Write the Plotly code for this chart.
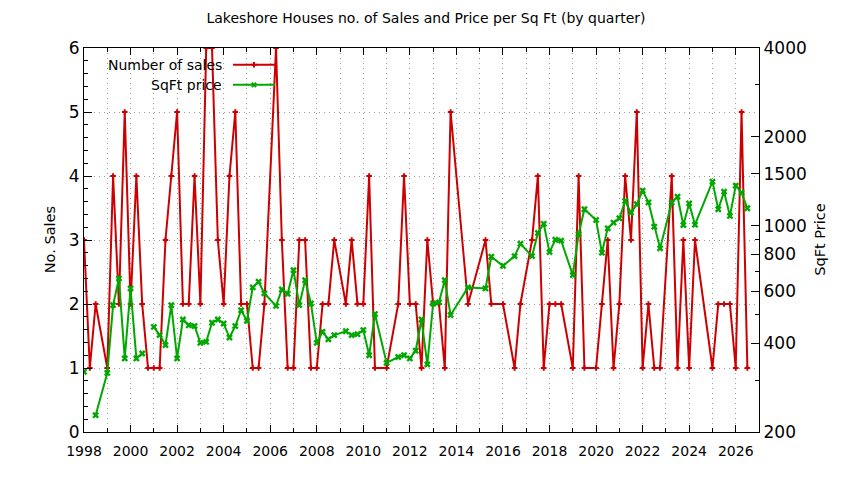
import plotly.graph_objects as go

# quarterly data (decimal year of the quarter start)
quarters = [
    1998.00, 1998.25, 1998.50, 1999.00, 1999.25, 1999.50, 1999.75,
    2000.00, 2000.25, 2000.50, 2000.75, 2001.00, 2001.25, 2001.50, 2001.75,
    2002.00, 2002.25, 2002.50, 2002.75, 2003.00, 2003.25, 2003.50, 2003.75,
    2004.00, 2004.25, 2004.50, 2004.75, 2005.00, 2005.25, 2005.50, 2005.75,
    2006.25, 2006.50, 2006.75, 2007.00, 2007.25, 2007.50, 2007.75,
    2008.00, 2008.25, 2008.50, 2008.75, 2009.25, 2009.50, 2009.75,
    2010.00, 2010.25, 2010.50, 2011.00, 2011.50, 2011.75,
    2012.00, 2012.25, 2012.50, 2012.75, 2013.00, 2013.25, 2013.50, 2013.75,
    2014.50, 2015.25, 2015.50, 2016.00, 2016.50, 2016.75,
    2017.25, 2017.50, 2017.75, 2018.00, 2018.25, 2018.50,
    2019.00, 2019.25, 2019.50, 2020.00, 2020.25, 2020.50, 2020.75,
    2021.00, 2021.25, 2021.50, 2021.75, 2022.00, 2022.25, 2022.50, 2022.75,
    2023.25, 2023.50, 2023.75, 2024.00, 2024.25,
    2025.00, 2025.25, 2025.50, 2025.75, 2026.00, 2026.25, 2026.50,
]

sales = [
    3, 1, 2, 1, 4, 2, 5,
    2, 4, 2, 1, 1, 1, 3, 4,
    5, 2, 2, 4, 2, 6, 6, 3,
    2, 4, 5, 2, 2, 1, 1, 2,
    6, 3, 1, 1, 3, 3, 1,
    1, 2, 2, 3, 2, 3, 2,
    2, 4, 1, 1, 2, 4,
    2, 2, 1, 3, 2, 2, 1, 5,
    2, 3, 2, 2, 1, 2,
    3, 4, 1, 2, 2, 2,
    1, 4, 1, 1, 2, 3, 1,
    2, 4, 3, 5, 1, 2, 1, 1,
    4, 1, 3, 1, 3,
    1, 2, 2, 2, 1, 5, 1,
]

sqft_price = [
    320, None, 228, 317, 538, 663, 355,
    613, 355, 369, None, 454, 426, 394, 538,
    355, 481, 460, 457, 401, 404, 469, 481,
    466, 418, 457, 517, 476, 618, 646, 590,
    535, 608, 588, 707, 538, 654, 545,
    401, 437, 412, 426, 439, 426, 429,
    443, 364, 502, 343, 359, 364,
    355, 377, 481, 339, 545, 550, 654, 498,
    618, 613, 785, 731, 789, 869,
    789, 945, 1015, 814, 896, 890,
    680, 937, 1137, 1046, 810, 980, 1024,
    1060, 1213, 1107, 1182, 1315, 1200, 992, 838,
    1197, 1254, 1005, 1190, 1008,
    1410, 1137, 1304, 1079, 1367, 1294, 1146,
]

price_ticks = [200, 400, 600, 800, 1000, 1500, 2000, 4000]
price_minor = [300, 500, 700, 900, 3000]
year_ticks = list(range(1998, 2027, 2))

RED = "#cc0000"
GREEN = "#00a800"
FONT = "DejaVu Sans"

fig = go.Figure()

fig.add_trace(go.Scatter(
    x=quarters, y=sales, name="Number of sales", mode="lines+markers",
    line=dict(color=RED, width=2),
    marker=dict(symbol="cross-thin", size=4, line=dict(color=RED, width=2)),
    showlegend=False,
))

fig.add_trace(go.Scatter(
    x=quarters, y=sqft_price, name="SqFt price", mode="lines+markers",
    yaxis="y2", connectgaps=False,
    line=dict(color=GREEN, width=2),
    marker=dict(symbol="x", size=6, color=GREEN),
    showlegend=False,
))

grid = dict(gridcolor="#9a9a9a", griddash="1px,4px", gridwidth=1)

# the page puts the plot 8px in from the corner, so the figure is 8px smaller
fig.update_layout(
    width=836, height=472,
    margin=dict(l=76, r=85, t=40, b=48, autoexpand=False),
    paper_bgcolor="white", plot_bgcolor="white",
    font=dict(family=FONT, color="black"),
    title=dict(text="Lakeshore Houses no. of Sales and Price per Sq Ft (by quarter)",
               x=0.5, xanchor="center", y=0.978, yanchor="middle",
               font=dict(size=14)),
    xaxis=dict(
        range=[1998, 2027], tickmode="array", tickvals=year_ticks,
        ticks="inside", ticklen=7, tickcolor="black", mirror="ticks",
        showline=True, linecolor="black", linewidth=1.2,
        showgrid=True, zeroline=False, tickfont=dict(size=14),
        ticklabelstandoff=6,
        minor=dict(dtick=1, tick0=1998, ticks="inside", ticklen=4,
                   showgrid=True, **grid),
        **grid,
    ),
    yaxis=dict(
        range=[0, 6], dtick=1, ticks="inside", ticklen=8, tickcolor="black",
        showline=True, linecolor="black", linewidth=1.2,
        showgrid=True, zeroline=False, tickfont=dict(size=17),
        minor=dict(dtick=0.2, ticks="inside", ticklen=4, showgrid=False),
        **grid,
    ),
    yaxis2=dict(
        overlaying="y", side="right", type="log",
        range=[2.30103, 3.60206], tickmode="array", tickvals=price_ticks,
        ticktext=[str(v) for v in price_ticks],
        ticks="inside", ticklen=8, tickcolor="black",
        showline=True, linecolor="black", linewidth=1.2,
        showgrid=False, zeroline=False, tickfont=dict(size=17),
        minor=dict(tickvals=price_minor, ticks="inside", ticklen=4, showgrid=False),
    ),
)

# axis titles
fig.add_annotation(text="No. Sales", xref="paper", yref="paper", x=-0.05, y=0.5,
                   xanchor="center", yanchor="middle",
                   textangle=-90, showarrow=False, font=dict(size=14.5))
fig.add_annotation(text="SqFt Price", xref="paper", yref="paper", x=1.09, y=0.5,
                   xanchor="center", yanchor="middle",
                   textangle=-90, showarrow=False, font=dict(size=14.5))

# gnuplot-style key: text on the left, sample on the right
key = [("Number of sales", RED, "cross-thin", 0.9565), ("SqFt price", GREEN, "x", 0.904)]
for label, col, sym, ky in key:
    fig.add_annotation(text=label, xref="paper", yref="paper", x=0.2074, y=ky,
                       xanchor="right", yanchor="middle", showarrow=False,
                       font=dict(size=14))
    fig.add_shape(type="line", xref="paper", yref="paper", x0=0.2207, x1=0.283,
                  y0=ky, y1=ky, line=dict(color=col, width=2))
    fig.add_trace(go.Scatter(
        x=[0.2518], y=[ky], xaxis="x3", yaxis="y3", mode="markers",
        marker=dict(symbol=sym, size=5 if sym == "x" else 4, color=col,
                    line=dict(color=col, width=2 if sym != "x" else 0)),
        showlegend=False, hoverinfo="skip",
    ))

fig.update_layout(
    xaxis3=dict(overlaying="x", range=[0, 1], visible=False),
    yaxis3=dict(overlaying="y", range=[0, 1], visible=False),
)

fig.write_html("out.html")
